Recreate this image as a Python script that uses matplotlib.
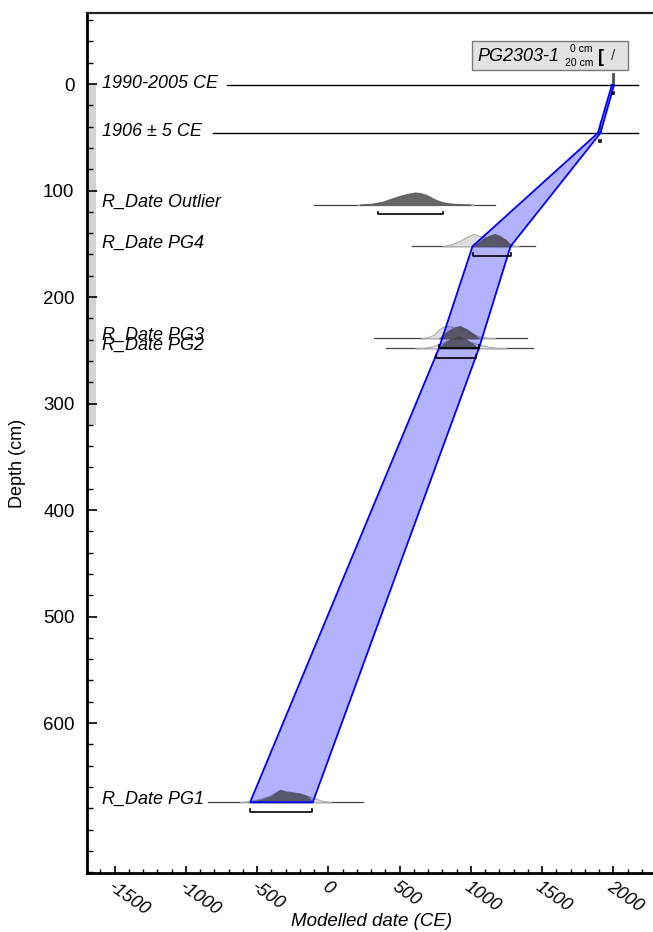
import matplotlib
matplotlib.use("Agg")
import matplotlib.pyplot as plt
import matplotlib.transforms as mtransforms
from matplotlib.patches import Rectangle
from matplotlib.ticker import MultipleLocator


plt.rcParams['font.family'] = ['Liberation Sans', 'DejaVu Sans']
plt.rcParams['axes.unicode_minus'] = False


# core
core_name = "PG2303-1"
core_top = 0
core_bottom = 320

# boundaries (label, depth, baseline extent, posterior range)
bound_labels = ["1990-2005 CE", "1906 ± 5 CE"]
bound_depth = [1, 46]
bound_line_from = [-710, -811]
bound_line_to = [2172, 2172]
bound_lo = [1990, 1898]
bound_hi = [2005, 1912]
bound_dist_x = [[1990, 1990, 2005, 2005], [1897, 1902, 1906, 1910, 1915]]
bound_dist_h = [[0, 1.0, 1.0, 0], [0, 0.25, 1.0, 0.25, 0]]

# radiocarbon dates
date_labels = ["R_Date Outlier", "R_Date PG4", "R_Date PG3", "R_Date PG2", "R_Date PG1"]
date_depth = [113.3, 152.4, 238.8, 248.2, 674.4]
date_line_from = [-100, 589, 320, 405, -842]
date_line_to = [1170, 1454, 1398, 1438, 245]
date_lo = [346, 1017, 776, 755, -549]
date_hi = [806, 1279, 1057, 1040, -112]

# likelihoods (light grey)
lik_x = [
    [200, 300, 380, 440, 500, 560, 608, 650, 690, 730, 770, 810, 850, 920, 1020],
    [800, 860, 920, 970, 1017, 1060, 1110, 1160, 1200, 1240, 1290, 1340],
    [650, 700, 740, 780, 810, 840, 880, 920, 960, 1000, 1060, 1120, 1170],
    [610, 680, 740, 790, 850, 900, 950, 1000, 1060, 1120, 1180, 1250],
    [-620, -560, -490, -420, -370, -339, -300, -240, -180, -130, -80, -30, 20],
]
lik_h = [
    [0, 0.08, 0.25, 0.5, 0.72, 0.9, 1.0, 0.95, 0.8, 0.55, 0.35, 0.2, 0.12, 0.05, 0],
    [0, 0.15, 0.42, 0.75, 1.0, 0.82, 0.7, 0.78, 0.7, 0.4, 0.1, 0],
    [0, 0.1, 0.3, 0.75, 0.95, 1.0, 0.92, 0.95, 0.7, 0.4, 0.15, 0.04, 0],
    [0, 0.05, 0.2, 0.42, 0.72, 0.88, 0.78, 0.52, 0.3, 0.14, 0.03, 0],
    [0, 0.1, 0.25, 0.5, 0.8, 1.0, 0.9, 0.8, 0.65, 0.45, 0.25, 0.08, 0],
]

# posteriors (dark grey)
post_x = [
    [220, 300, 380, 440, 500, 560, 608, 650, 690, 730, 770, 810, 850, 920, 1000],
    [1012, 1050, 1085, 1133, 1168, 1203, 1250, 1286],
    [778, 820, 870, 924, 970, 1020, 1057],
    [769, 810, 860, 910, 960, 1010, 1050],
    [-549, -520, -460, -400, -370, -339, -300, -250, -200, -150, -130, -109],
]
post_h = [
    [0, 0.06, 0.22, 0.46, 0.68, 0.86, 0.96, 0.9, 0.75, 0.5, 0.3, 0.16, 0.09, 0.03, 0],
    [0, 0.3, 0.6, 0.88, 1.0, 0.85, 0.5, 0],
    [0, 0.45, 0.8, 1.0, 0.75, 0.35, 0],
    [0, 0.4, 0.78, 1.0, 0.75, 0.4, 0],
    [0, 0.1, 0.25, 0.5, 0.75, 1.0, 0.85, 0.78, 0.7, 0.5, 0.3, 0],
]

# age-depth model envelope
model_depth = [1, 46, 152.4, 248.2, 674.4]
model_lo = [1990, 1892, 1012, 776, -549]
model_hi = [2005, 1910, 1279, 1057, -109]


dist_scale = 11.7    # peak height in cm
bracket_off = 8.8
bracket_up = 2.2


fig = plt.figure(figsize=(6.53, 9.32), dpi=100)
ax = fig.add_axes([87 / 653, 1 - 873 / 932, (653 - 87) / 653, (873 - 13) / 932])

ax.set_xlim(-1693.5, 2278.8)
ax.set_ylim(740.8, -66.7)

blend = mtransforms.blended_transform_factory(ax.transAxes, ax.transData)

# core bar
ax.add_patch(Rectangle((0, core_top), 0.0165, core_bottom - core_top, transform=blend,
                       facecolor="#d4d4d4", edgecolor="none", zorder=0.5))

# model envelope (fill under posteriors, outline on top)
poly_x = model_lo + model_hi[::-1]
poly_y = model_depth + model_depth[::-1]
ax.fill(poly_x, poly_y, facecolor=(0, 0, 1, 0.3), edgecolor="none", zorder=3.5)
ax.plot(poly_x + poly_x[:1], poly_y + poly_y[:1], color="#0000ff", lw=1.3, zorder=4.5)

# boundaries
for lab, d, x0, x1, lo, hi, bx, bh in zip(bound_labels, bound_depth, bound_line_from, bound_line_to,
                                          bound_lo, bound_hi, bound_dist_x, bound_dist_h):
    ax.plot([x0, x1], [d, d], color="black", lw=1.0, zorder=2)
    ax.fill_between(bx, d, [d - h * dist_scale for h in bh], color="#555555", lw=0.6, zorder=4)
    yb = d + bracket_off
    ax.plot([lo, lo, hi, hi], [yb - bracket_up, yb, yb, yb - bracket_up], color="black", lw=1.2, zorder=5)
    ax.text(0.0265, d - 1.5, lab, transform=blend, fontsize=13, style="italic",
            ha="left", va="center")

# dates
for i, lab in enumerate(date_labels):
    d = date_depth[i]
    ax.plot([date_line_from[i], date_line_to[i]], [d, d], color="#444444", lw=0.9, zorder=2)
    ax.fill_between(lik_x[i], d, [d - h * dist_scale for h in lik_h[i]],
                    facecolor="#dedede", edgecolor="#a8a8a8", lw=0.7, zorder=2.5)
    ax.fill_between(post_x[i], d, [d - h * dist_scale for h in post_h[i]],
                    facecolor=(0.25, 0.25, 0.25, 0.75), edgecolor=(0.3, 0.3, 0.3, 0.8),
                    lw=0.6, zorder=4)
    yb = d + bracket_off
    ax.plot([date_lo[i], date_lo[i], date_hi[i], date_hi[i]],
            [yb - bracket_up, yb, yb, yb - bracket_up], color="black", lw=1.2, zorder=5)
    ax.text(0.0265, d - 2.5, lab, transform=blend, fontsize=13, style="italic",
            ha="left", va="center")

# axes styling
ax.spines["right"].set_visible(False)
ax.spines["left"].set_linewidth(2)
ax.spines["bottom"].set_linewidth(2)
ax.spines["top"].set_linewidth(1.6)
ax.spines["top"].set_color("#222222")

ax.set_xticks(range(-1500, 2001, 500))
ax.xaxis.set_minor_locator(MultipleLocator(100))
ax.set_yticks(range(0, 601, 100))
ax.yaxis.set_minor_locator(MultipleLocator(20))

ax.tick_params(axis="x", which="major", direction="in", length=5, width=1.2, labelsize=13, pad=4)
ax.tick_params(axis="x", which="minor", direction="in", length=3, width=1.0)
ax.tick_params(axis="y", which="major", direction="in", length=7, width=1.2, labelsize=13.5, pad=9)
ax.tick_params(axis="y", which="minor", direction="in", length=4, width=1.0)

for t in ax.get_xticklabels():
    t.set_rotation(-35)
    t.set_rotation_mode("anchor")
    t.set_ha("left")
    t.set_va("top")
    t.set_style("italic")

fig.text(372 / 653, 1 - 922 / 932, "Modelled date (CE)", fontsize=13.5, style="italic",
         ha="center", va="center")
fig.text(18 / 653, 1 - 463 / 932, "Depth (cm)", fontsize=13, rotation=90,
         ha="center", va="center")

# core legend box
fig.patches.append(Rectangle((471.7 / 653, 1 - 70 / 932), 156 / 653, 29.3 / 932,
                             transform=fig.transFigure, facecolor="#e2e2e2",
                             edgecolor="#7a7a7a", lw=1.0, zorder=10))
fig.text(477 / 653, 1 - 56.5 / 932, core_name, fontsize=13, style="italic",
         ha="left", va="center", zorder=11)
fig.text(593 / 653, 1 - 49 / 932, "%d cm" % core_top, fontsize=7.5, ha="right", va="center", zorder=11)
fig.text(593 / 653, 1 - 63 / 932, "%d cm" % 20, fontsize=7.5, ha="right", va="center", zorder=11)
fig.text(601 / 653, 1 - 57 / 932, "[", fontsize=13, fontweight="bold", ha="center", va="center", zorder=11)
fig.text(613 / 653, 1 - 56 / 932, "/", fontsize=11, ha="center", va="center", color="#333333", zorder=11)

fig.savefig("out.png", dpi=100)
